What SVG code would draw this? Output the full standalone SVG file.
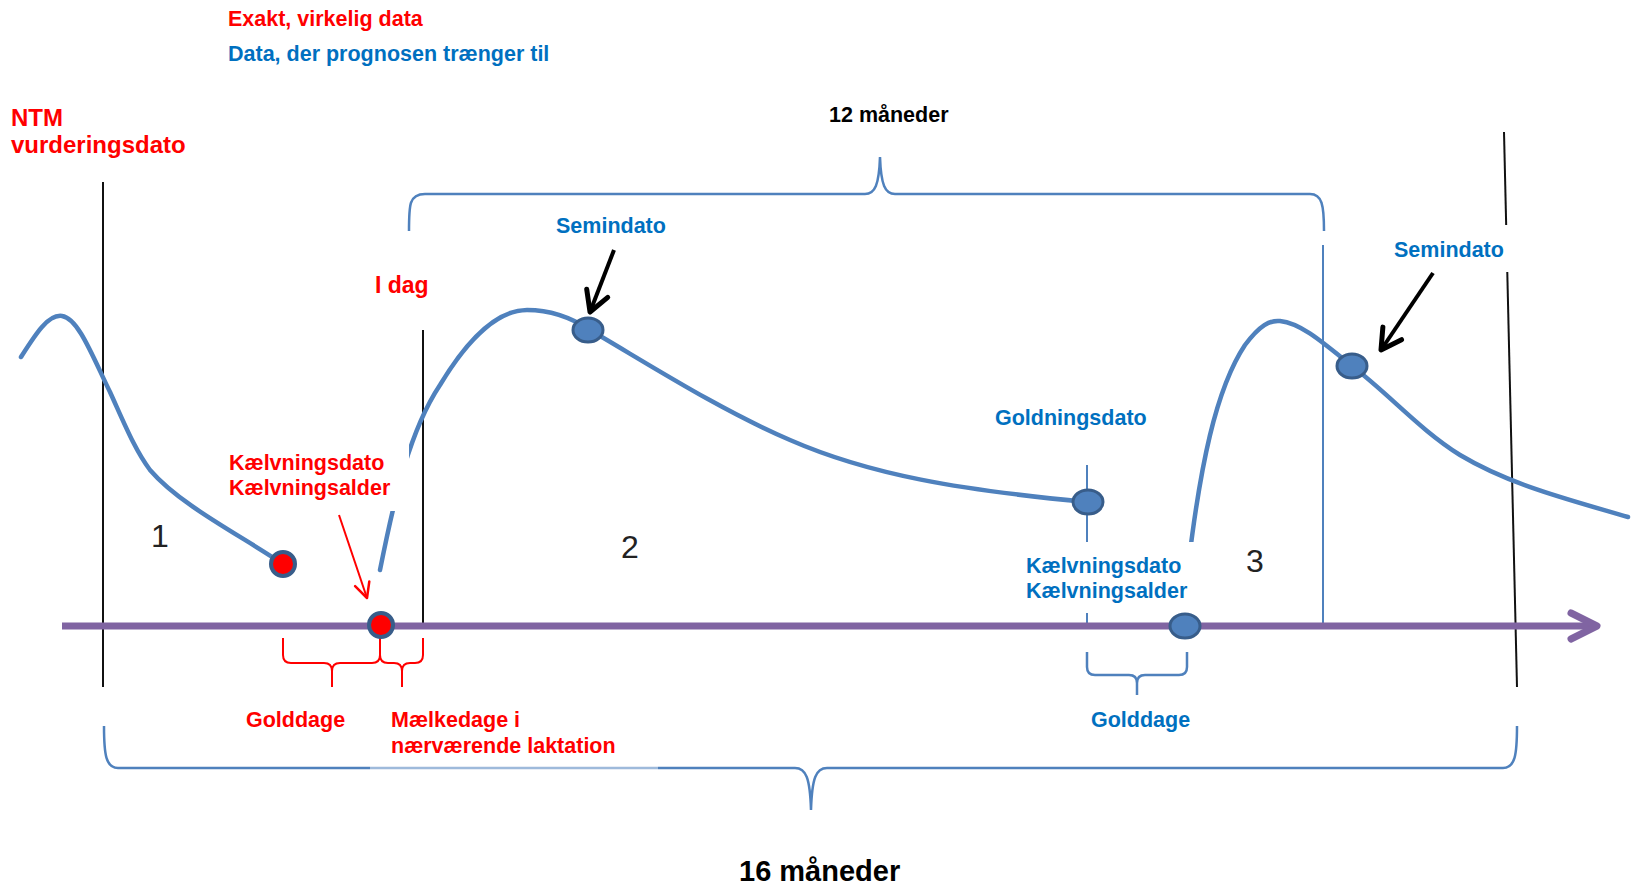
<svg xmlns="http://www.w3.org/2000/svg" width="1633" height="884" viewBox="0 0 1633 884">
<style>
text{font-family:"Liberation Sans",Arial,sans-serif;font-weight:bold;font-size:21.5px}
.r{fill:#FF0000}.b{fill:#0070C0}.k{fill:#000}
.num{font-weight:normal;font-size:32px;fill:#222}
.curve{fill:none;stroke:#4F81BD;stroke-width:4.5;stroke-linecap:round}
.vl{stroke:#111;stroke-width:2}
.brace{fill:none;stroke:#4F81BD;stroke-width:2.5}
.rbrace{fill:none;stroke:#FF0000;stroke-width:2}
.dot{fill:#4F81BD;stroke:#385D8A;stroke-width:3}
.rdot{fill:#FF0000;stroke:#385D8A;stroke-width:4}
.bg{fill:#fff}
</style>
<defs>
<marker id="ah" markerUnits="userSpaceOnUse" markerWidth="30" markerHeight="30" refX="0" refY="0" viewBox="-20 -12 24 24" orient="auto" overflow="visible">
<path d="M-16,-9 L0,0 L-16,9" fill="none" stroke="#000" stroke-width="4" stroke-linecap="round" stroke-linejoin="round"/>
</marker>
<marker id="ahr" markerUnits="userSpaceOnUse" markerWidth="20" markerHeight="20" refX="0" refY="0" viewBox="-14 -8 16 16" orient="auto" overflow="visible">
<path d="M-12,-6 L0,0 L-12,6" fill="none" stroke="#FF0000" stroke-width="2" stroke-linecap="round" stroke-linejoin="round"/>
</marker>
</defs>
<rect width="1633" height="884" fill="#fff"/>

<g id="legend">
<text class="r" x="228" y="26">Exakt, virkelig data</text>
<text class="b" x="228" y="61">Data, der prognosen trænger til</text>
</g>

<g id="vlines">
<line class="vl" x1="103" y1="182" x2="103" y2="687"/>
<line class="vl" x1="423" y1="330" x2="423" y2="625"/>
<line class="vl" x1="1504" y1="132" x2="1517" y2="687"/>
<line x1="1323" y1="245" x2="1323" y2="625" stroke="#4F81BD" stroke-width="2"/>
<line x1="1087" y1="465" x2="1087" y2="625" stroke="#4F81BD" stroke-width="2"/>
</g>

<g id="braces">
<path class="brace" d="M409,231 C409,205 409,194 425,194 L865,194 C875,194 879,185 880,157 C881,185 885,194 895,194 L1310,194 C1322,194 1324,205 1324,231"/>
<path class="brace" d="M104,726 C104,755 106,768 118,768 L795,768 C806,768 810,778 811,810 C812,778 816,768 827,768 L1503,768 C1515,768 1517,755 1517,726"/>
<rect x="370" y="760" width="288" height="14" fill="#fff" opacity="0.45"/>
<path class="rbrace" d="M283,638 L283,655 Q283,663 291,663 L324,663 Q332,663 332,671 L332,687 M332,671 Q332,663 340,663 L372,663 Q380,663 380,655 L380,638"/>
<path class="rbrace" d="M380,638 L380,655 Q380,663 388,663 L394,663 Q402,663 402,671 L402,687 M402,671 Q402,663 410,663 L415,663 Q423,663 423,655 L423,638"/>
<path class="brace" stroke-width="2" d="M1087,652 L1087,667 Q1087,675 1095,675 L1129,675 Q1137,675 1137,683 L1137,695 M1137,683 Q1137,675 1145,675 L1179,675 Q1187,675 1187,667 L1187,652"/>
</g>

<g id="lactation-curves">
<path class="curve" d="M21,357 C35,335 48,314 62,316 C78,318 92,355 110,392 C125,425 135,450 150,470 C180,505 240,535 283,564"/>
<path class="curve" d="M380,570 C395,495 410,430 440,385 C470,335 500,310 527,310 C555,310 575,320 590,330 C650,365 720,410 790,440 C870,475 960,490 1087,502"/>
<path class="curve" d="M1189,560 C1200,470 1215,390 1245,345 C1260,325 1270,320 1280,321 C1300,323 1320,340 1352,366 C1390,395 1420,430 1460,455 C1510,485 1570,500 1628,517"/>
</g>

<g id="label-backgrounds">
<rect class="bg" x="222" y="438" width="187" height="73"/>
<rect class="bg" x="1020" y="542" width="187" height="71"/>
<rect class="bg" x="1385" y="225" width="127" height="47"/>
</g>

<g id="axis">
<line x1="62" y1="626" x2="1594" y2="626" stroke="#8064A2" stroke-width="7"/>
<path d="M1571,613 L1597,626 L1571,639" fill="none" stroke="#8064A2" stroke-width="7" stroke-linecap="round" stroke-linejoin="round"/>
</g>

<g id="connectors">
<line x1="614" y1="250" x2="590" y2="312" stroke="#000" stroke-width="4" marker-end="url(#ah)"/>
<line x1="1433" y1="273" x2="1381" y2="350" stroke="#000" stroke-width="4" marker-end="url(#ah)"/>
<line x1="339" y1="515" x2="367" y2="598" stroke="#FF0000" stroke-width="2" marker-end="url(#ahr)"/>
</g>

<g id="dot-calving-1"><circle class="rdot" cx="283" cy="564" r="12"/></g>
<g id="dot-calving-2"><circle class="rdot" cx="381" cy="625" r="12"/></g>
<g id="dot-semin-1"><ellipse class="dot" cx="588" cy="330" rx="15" ry="12"/></g>
<g id="dot-drying"><ellipse class="dot" cx="1088" cy="502" rx="15" ry="12"/></g>
<g id="dot-calving-3"><ellipse class="dot" cx="1185" cy="626" rx="15" ry="12"/></g>
<g id="dot-semin-2"><ellipse class="dot" cx="1352" cy="366" rx="15" ry="12"/></g>

<g id="labels">
<text class="r" x="11" y="126" style="font-size:24px">NTM</text>
<text class="r" x="11" y="153" style="font-size:24px">vurderingsdato</text>
<text class="k" x="829" y="122">12 måneder</text>
<text class="b" x="556" y="233">Semindato</text>
<text class="r" x="375" y="293" style="font-size:23px">I dag</text>
<text class="b" x="1394" y="257">Semindato</text>
<text class="b" x="995" y="425">Goldningsdato</text>
<text class="r" x="229" y="470">Kælvningsdato</text>
<text class="r" x="229" y="495">Kælvningsalder</text>
<text class="b" x="1026" y="573">Kælvningsdato</text>
<text class="b" x="1026" y="598">Kælvningsalder</text>
<text class="r" x="246" y="727">Golddage</text>
<text class="r" x="391" y="727">Mælkedage i</text>
<text class="r" x="391" y="753">nærværende laktation</text>
<text class="b" x="1091" y="727">Golddage</text>
<text class="num" x="151" y="547">1</text>
<text class="num" x="621" y="558">2</text>
<text class="num" x="1246" y="572">3</text>
<text class="k" x="739" y="881" style="font-size:29px">16 måneder</text>
</g>
</svg>
